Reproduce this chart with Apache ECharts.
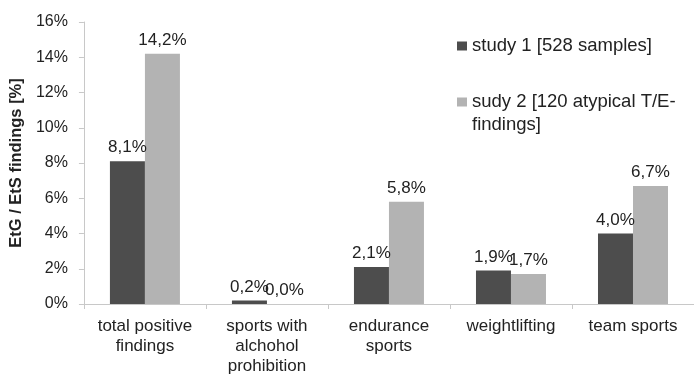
<!DOCTYPE html>
<html>
<head>
<meta charset="utf-8">
<script src="https://cdn.jsdelivr.net/npm/echarts@6/dist/echarts.min.js"></script>
<style>
  html, body { margin: 0; padding: 0; background: #fff; overflow: hidden; }
  #chart { width: 694px; height: 376px; }
</style>
</head>
<body>
<div id="chart"></div>
<script>
// categories and values
var categories = ['total positive\nfindings', 'sports with\nalchohol\nprohibition', 'endurance\nsports', 'weightlifting', 'team sports'];
var study1 = [8.1, 0.2, 2.1, 1.9, 4.0];
var study2 = [14.2, 0.0, 5.8, 1.7, 6.7];
var seriesNames = ['study 1 [528 samples]', 'sudy 2 [120 atypical T/E-findings]'];

var font = 'Liberation Sans, Arial, sans-serif';

function pct(v) {
    return v.toFixed(1).replace('.', ',') + '%';
}

var chart = echarts.init(document.getElementById('chart'));
var option = {
    backgroundColor: '#fff',
    animation: false,
    textStyle: { fontFamily: font },
    // the plot runs a little past the right edge, as in the picture
    grid: { left: 81, right: -12, top: 22, bottom: 68 },
    legend: {
        orient: 'vertical',
        left: 457,
        top: 35,
        padding: 0,
        itemWidth: 10,
        itemHeight: 9,
        itemGap: 34,
        icon: 'rect',
        textStyle: { fontSize: 18.5, color: '#222', fontFamily: font, lineHeight: 22 },
        formatter: function (name) {
            // second line of the long name is drawn below as its own text
            return name.replace('findings]', '');
        },
        data: seriesNames
    },
    graphic: [{
        type: 'text',
        left: 472,
        top: 115,
        style: { text: 'findings]', fontSize: 18.5, fill: '#222', fontFamily: font }
    }],
    xAxis: {
        type: 'category',
        data: categories,
        axisLine: { lineStyle: { color: '#c8c8c8' } },
        axisTick: { show: true, length: 5, lineStyle: { color: '#c8c8c8' } },
        axisLabel: { fontSize: 17, color: '#222', margin: 12, lineHeight: 20, interval: 0 }
    },
    yAxis: {
        type: 'value',
        min: 0,
        max: 16,
        interval: 2,
        name: 'EtG / EtS findings [%]',
        nameLocation: 'middle',
        nameGap: 47,
        nameTextStyle: { fontSize: 16.5, fontWeight: 'bold', color: '#222' },
        axisLine: { show: true, lineStyle: { color: '#c8c8c8' } },
        axisTick: { show: true, length: 5, lineStyle: { color: '#c8c8c8' } },
        splitLine: { show: false },
        axisLabel: {
            fontSize: 16, color: '#222', margin: 16,
            formatter: function (v) { return v + '%'; }
        }
    },
    series: [
        {
            name: seriesNames[0],
            type: 'bar',
            data: study1,
            barWidth: 35,
            barGap: '0%',
            itemStyle: { color: '#4d4d4d' },
            label: {
                show: true, position: 'top', distance: 5,
                fontSize: 17, color: '#222',
                formatter: function (p) { return pct(p.value); }
            }
        },
        {
            name: seriesNames[1],
            type: 'bar',
            data: study2,
            barWidth: 35,
            barGap: '0%',
            itemStyle: { color: '#b3b3b3' },
            label: {
                show: true, position: 'top', distance: 5,
                fontSize: 17, color: '#222',
                formatter: function (p) { return pct(p.value); }
            }
        }
    ]
};
chart.setOption(option);
</script>
</body>
</html>
